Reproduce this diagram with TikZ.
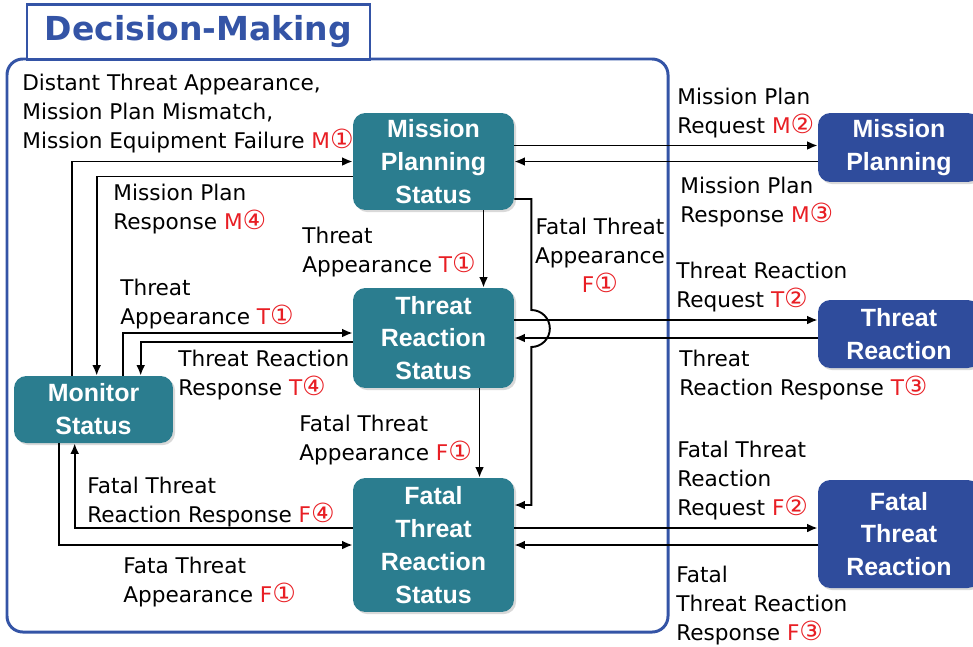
\documentclass[tikz,border=0pt]{standalone}
\usepackage{fontspec}
\setmainfont{DejaVu Sans}
\newfontfamily\boxfont{Liberation Sans}
\usetikzlibrary{calc,arrows.meta,shadows}
\definecolor{tealbox}{RGB}{43,125,143}
\definecolor{bluebox}{RGB}{47,76,156}
\definecolor{frameblue}{RGB}{52,84,166}
\definecolor{tagred}{RGB}{232,30,36}
\newcommand{\redtag}[2]{\textcolor{tagred}{#1{\fontsize{15}{16.4}\selectfont#2}}}

\begin{document}
\begin{tikzpicture}[x=0.02cm,y=-0.02cm,
    status/.style={fill=tealbox,rounded corners=7pt,text=white,align=center,inner sep=0pt,
      font=\boxfont\bfseries\fontsize{14.2}{18.7}\selectfont,minimum width=3.22cm,
      drop shadow={shadow xshift=1.2pt,shadow yshift=-1.2pt,opacity=0.3}},
    outer/.style={status,fill=bluebox,minimum width=3.24cm},
    lbl/.style={anchor=base west,align=left,inner sep=0pt,font=\fontsize{12.3}{16.4}\selectfont},
    arr/.style={line width=1.1pt,-{Latex[length=6pt,width=5pt]}}]
  \useasboundingbox (0,0) rectangle (973,646);
  \clip (0,0) rectangle (973,646);
  \draw[frameblue,line width=1.7pt,rounded corners=9pt] (7,59) rectangle (668,632);
  \node[draw=frameblue,line width=1.5pt,fill=white,minimum width=6.86cm,minimum height=1.1cm,
    text=frameblue,font=\bfseries\fontsize{18.8}{22}\selectfont] (title) at (198.5,32) {Decision-Making};

  \node[status,minimum height=1.94cm] (mps) at (433.5,161.5) {Mission\\Planning\\Status};
  \node[status,minimum height=2cm] (trs) at (433.5,338) {Threat\\Reaction\\Status};
  \node[status,minimum height=2.68cm] (ftrs) at (433.5,545) {Fatal\\Threat\\Reaction\\Status};
  \node[status,minimum width=3.18cm,minimum height=1.34cm] (mon) at (93.5,409.5) {Monitor\\Status};
  \node[outer,minimum height=1.38cm] (mp) at (899,147.5) {Mission\\Planning};
  \node[outer,minimum height=1.36cm] (tr) at (899,334) {Threat\\Reaction};
  \node[outer,minimum height=2.16cm] (ftr) at (899,534) {Fatal\\Threat\\Reaction};

  \draw[arr] ($(mon.north west)+(58,0)$) |- (mps.west);
  \draw[arr] ($(mps.west)+(0,15)$) -| ($(mon.north west)+(83,0)$);
  \draw[arr] ($(mon.north west)+(109,0)$) |- ($(trs.west)+(0,-5)$);
  \draw[arr] ($(trs.west)+(0,4)$) -| ($(mon.north west)+(127,0)$);
  \draw[arr] ($(ftrs.west)+(0,-17)$) -| ($(mon.south west)+(61,0)$);
  \draw[arr] ($(mon.south west)+(45,0)$) |- (ftrs.west);
  \draw[arr] ($(mps.south)+(50,0)$) -- ($(trs.north)+(50,0)$);
  \draw[arr] ($(trs.south)+(46,0)$) -- ($(ftrs.north)+(46,0)$);
  \draw[arr] ($(mps.east)+(0,37.5)$) -| ++(17,111) arc[start angle=-90,end angle=90,radius=18.5]
    |- ($(ftrs.east)+(0,-40)$);

  \coordinate (m2) at ($(mps.east)+(0,-16)$);
  \coordinate (t2) at ($(trs.east)+(0,-18)$);
  \coordinate (f2) at ($(ftrs.east)+(0,-17)$);
  \draw[arr] (m2) -- (m2 -| mp.west);
  \draw[arr] (mps.east -| mp.west) -- (mps.east);
  \draw[arr] (t2) -- (t2 -| tr.west);
  \draw[arr] (trs.east -| tr.west) -- (trs.east);
  \draw[arr] (f2) -- (f2 -| ftr.west);
  \draw[arr] (ftrs.east -| ftr.west) -- (ftrs.east);

  \node[lbl] (lm1) at (22,148) {Distant Threat Appearance,\\Mission Plan Mismatch,\\Mission Equipment Failure \redtag{M}{①}};
  \node[lbl] (lm4) at (113,229) {Mission Plan\\Response \redtag{M}{④}};
  \node[lbl] (lt1a) at (302,272) {Threat\\Appearance \redtag{T}{①}};
  \node[lbl] (lt1b) at (120,324) {Threat\\Appearance \redtag{T}{①}};
  \node[lbl] (lt4) at (178,395) {Threat Reaction\\Response \redtag{T}{④}};
  \node[lbl] (lf1a) at (299,460) {Fatal Threat\\Appearance \redtag{F}{①}};
  \node[lbl] (lf4) at (87,522) {Fatal Threat\\Reaction Response \redtag{F}{④}};
  \node[lbl] (lf1b) at (123,602) {Fata Threat\\Appearance \redtag{F}{①}};
  \node[lbl,anchor=base,align=center] (lf1c) at (600,292) {Fatal Threat\\Appearance\\\redtag{F}{①}};
  \node[lbl] (lm2) at (677,133) {Mission Plan\\Request \redtag{M}{②}};
  \node[lbl] (lm3) at (680,222) {Mission Plan\\Response \redtag{M}{③}};
  \node[lbl] (lt2) at (676,307) {Threat Reaction\\Request \redtag{T}{②}};
  \node[lbl] (lt3) at (679,395) {Threat\\Reaction Response \redtag{T}{③}};
  \node[lbl] (lf2) at (677,515) {Fatal Threat\\Reaction\\Request \redtag{F}{②}};
  \node[lbl] (lf3) at (676,640) {Fatal\\Threat Reaction\\Response \redtag{F}{③}};
\end{tikzpicture}
\end{document}
